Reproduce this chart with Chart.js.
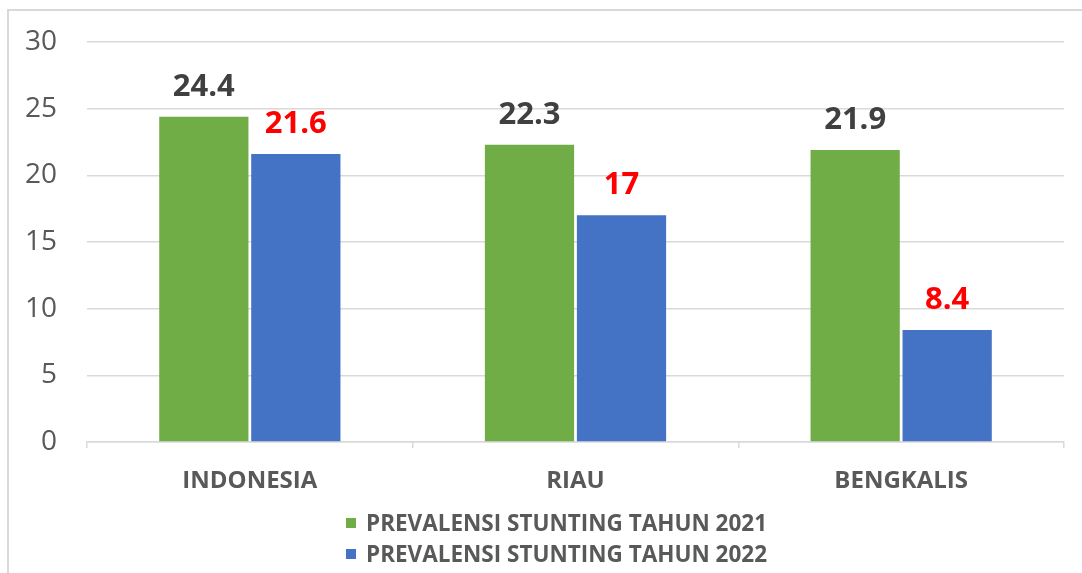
<!DOCTYPE html>
<html>
<head>
<meta charset="utf-8">
<script src="https://cdn.jsdelivr.net/npm/chart.js@4"></script>
<style>
    body { margin: 0; background: #fff; overflow: hidden; }
    #wrap { position: relative; width: 1082px; height: 573px; }
    #frame {
        position: absolute; left: 7px; top: 9px;
        width: 1200px; height: 700px;
        border: 2px solid #d9d9d9; pointer-events: none;
    }
    #legend {
        position: absolute; left: 346px; top: 507px;
        font-family: "Open Sans", sans-serif; font-weight: bold;
        font-size: 22.5px; color: #595959;
    }
    .item { height: 31px; line-height: 31px; white-space: nowrap; }
    .box { display: inline-block; width: 10px; height: 10px; margin-right: 10px; vertical-align: 3px; }
</style>
</head>
<body>
<div id="wrap">
    <canvas id="myChart" width="1082" height="573"></canvas>
    <div id="frame"></div>
    <div id="legend"></div>
</div>
<script>
// categories and values
const regions = ['INDONESIA', 'RIAU', 'BENGKALIS'];
const seriesNames = ['PREVALENSI STUNTING TAHUN 2021', 'PREVALENSI STUNTING TAHUN 2022'];
const stunting2021 = [24.4, 22.3, 21.9];
const stunting2022 = [21.6, 17, 8.4];
const yTicks = [0, 5, 10, 15, 20, 25, 30];

const barColors = ['#70AD47', '#4472C4'];
const labelColors = ['#404040', '#FF0000'];   // value labels: grey for 2021, red for 2022

// draws the value above each bar
const valueLabels = {
    id: 'valueLabels',
    afterDatasetsDraw(chart) {
        const ctx = chart.ctx;
        ctx.save();
        ctx.font = 'bold 31px "Open Sans"';
        ctx.textAlign = 'center';
        ctx.textBaseline = 'alphabetic';
        chart.data.datasets.forEach((ds, i) => {
            const meta = chart.getDatasetMeta(i);
            ctx.fillStyle = labelColors[i];
            meta.data.forEach((bar, j) => {
                ctx.fillText(String(ds.data[j]), bar.x, bar.y - 21);
            });
        });
        ctx.restore();
    }
};

const ctx = document.getElementById('myChart');
const myChart = new Chart(ctx, {
    type: 'bar',
    data: {
        labels: regions,
        datasets: [
            {
                label: seriesNames[0],
                data: stunting2021,
                backgroundColor: barColors[0],
                categoryPercentage: 0.565,
                barPercentage: 0.97
            },
            {
                label: seriesNames[1],
                data: stunting2022,
                backgroundColor: barColors[1],
                categoryPercentage: 0.565,
                barPercentage: 0.97
            }
        ]
    },
    options: {
        responsive: false,
        animation: false,
        layout: {
            padding: { top: 42, right: 18, left: 0, bottom: 0 }
        },
        scales: {
            x: {
                // fixed height so the plot ends where the reference does
                afterFit: s => { s.height = 131; s.paddingLeft = 0; s.paddingRight = 0; },
                grid: {
                    drawOnChartArea: false,
                    drawTicks: true,
                    tickLength: 6,
                    color: '#d9d9d9',
                    lineWidth: 1.5
                },
                border: { display: true, color: '#d9d9d9', width: 1.5 },
                ticks: {
                    color: '#595959',
                    padding: 19,
                    font: { family: 'Open Sans', size: 24, weight: 'bold' }
                }
            },
            y: {
                min: 0,
                max: 30,
                afterFit: s => { s.width = 87; s.paddingTop = 0; s.paddingBottom = 0; },
                afterBuildTicks: s => { s.ticks = yTicks.map(v => ({ value: v })); },
                grid: {
                    color: '#d9d9d9',
                    lineWidth: 1.5,
                    drawTicks: false
                },
                border: { display: false },
                ticks: {
                    color: '#595959',
                    padding: 30,
                    font: { family: 'Open Sans', size: 28 }
                }
            }
        },
        plugins: {
            legend: { display: false },
            tooltip: { enabled: false }
        }
    },
    plugins: [valueLabels]
});

// legend built from the datasets, stacked one per row
const legendDiv = document.getElementById('legend');
myChart.data.datasets.forEach(ds => {
    const row = document.createElement('div');
    row.className = 'item';
    const box = document.createElement('span');
    box.className = 'box';
    box.style.background = ds.backgroundColor;
    row.appendChild(box);
    row.appendChild(document.createTextNode(ds.label));
    legendDiv.appendChild(row);
});
</script>
</body>
</html>
